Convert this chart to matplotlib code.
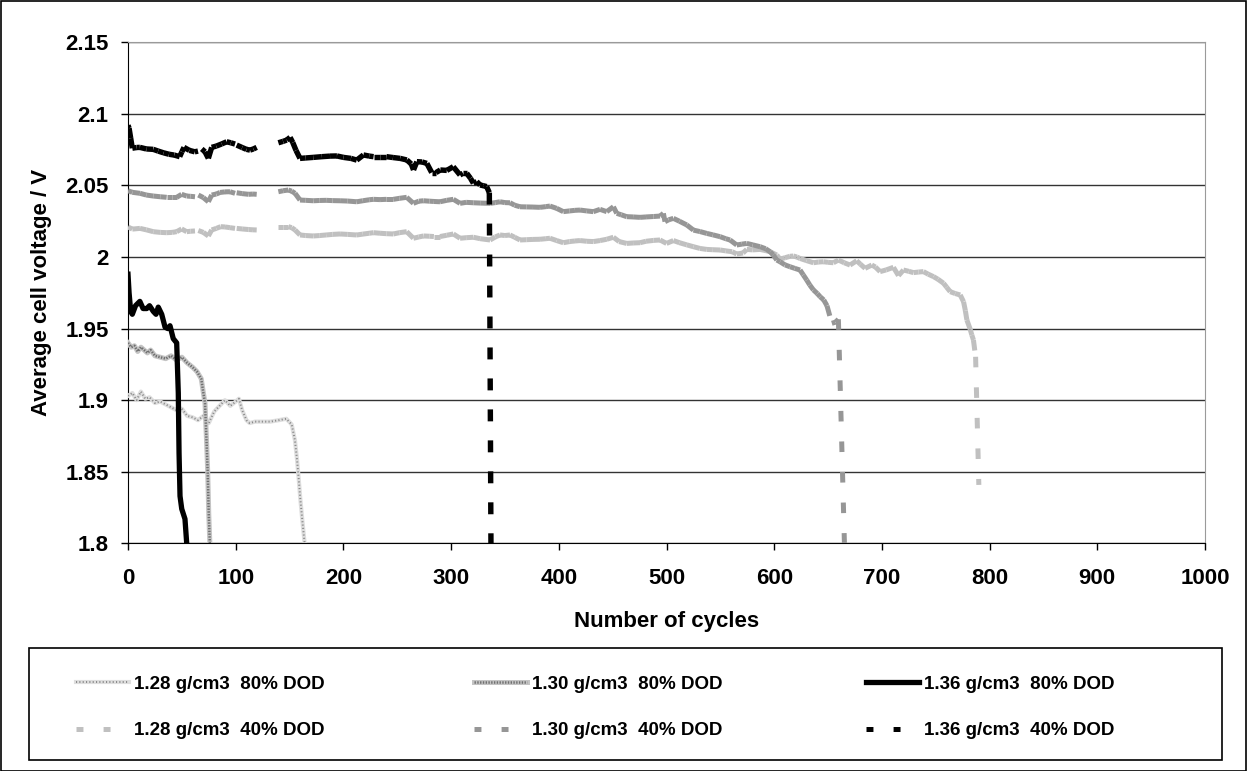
import numpy as np
import matplotlib
matplotlib.use("Agg")
import matplotlib.pyplot as plt
from matplotlib import font_manager
from matplotlib.collections import LineCollection
from matplotlib.lines import Line2D
from matplotlib.patches import Rectangle
from matplotlib.legend_handler import HandlerTuple

plt.rcParams['font.family'] = ['Liberation Sans', 'DejaVu Sans']
plt.rcParams['font.weight'] = 'bold'
plt.rcParams['lines.scale_dashes'] = False

nan = np.nan

# ---- data (cycles, average cell voltage) ----
# 80% DOD runs
c128_80 = [0, 4, 8, 12, 16, 20, 25, 30, 35, 40,
           45, 50, 55, 60, 65, 70, 75, 80, 85, 90,
           95, 100, 103, 106, 110, 113, 118, 125, 132, 140,
           147, 152, 155, 157, 158.5, 160, 162, 164]
v128_80 = [1.903, 1.905, 1.900, 1.906, 1.901, 1.902, 1.898, 1.899, 1.897, 1.895,
           1.893, 1.894, 1.889, 1.888, 1.886, 1.889, 1.884, 1.892, 1.896, 1.900,
           1.896, 1.899, 1.901, 1.893, 1.886, 1.884, 1.885, 1.885, 1.885, 1.886,
           1.887, 1.883, 1.872, 1.858, 1.845, 1.831, 1.815, 1.800]

c130_80 = [0, 3, 6, 9, 12, 15, 18, 21, 25, 30,
           35, 40, 45, 50, 55, 60, 64, 68, 70, 71.5,
           73, 74, 75, 76]
v130_80 = [1.940, 1.937, 1.938, 1.934, 1.937, 1.935, 1.933, 1.935, 1.931, 1.930,
           1.929, 1.931, 1.928, 1.930, 1.926, 1.923, 1.920, 1.915, 1.905, 1.898,
           1.870, 1.850, 1.820, 1.800]

c136_80 = [0, 1, 2.5, 4, 7, 11, 14, 17.4, 20, 23.5,
           26, 28.1, 31.3, 34.4, 37, 39, 42, 45.2, 46.7, 47.4,
           48.3, 49.9, 52.9, 54.5]
v136_80 = [1.988, 1.975, 1.962, 1.960, 1.966, 1.969, 1.964, 1.964, 1.966, 1.962,
           1.960, 1.965, 1.960, 1.951, 1.950, 1.952, 1.943, 1.940, 1.905, 1.863,
           1.833, 1.824, 1.817, 1.800]

# 40% DOD runs (nan = missing readings)
c128_40 = [0, 4, 11.1, 17, 23.5, 30, 35.9, 41, 45.2, 49.8,
           54.5, 58, 62.2, 63.5, 65.3, 70, 74.6, 77.7, 82, 86,
           90, 94.7, 99.4, 100.2, 100.9, 106, 112, 116, 119.5, 130,
           139.6, 144, 148.9, 152, 155.1, 159.7, 165, 172.1, 178, 184,
           190, 196.9, 204, 212.4, 218, 224, 227.9, 234, 240, 246.4,
           252, 258.8, 265, 270, 274.3, 280, 284, 289.7, 296, 302.1,
           308.3, 314, 320.7, 327, 336.2, 341, 345.4, 350, 354.7, 359,
           364, 370, 376, 382.5, 388, 391.8, 398, 404.2, 410, 415,
           419.7, 426, 432.1, 438.3, 444.5, 450.7, 456, 463, 469, 475.4,
           481, 488, 494, 500, 506.4, 512, 518.8, 525, 531, 537.4,
           543, 549.8, 555, 561, 565.2, 571, 574.5, 580, 586.9, 592,
           596.2, 602.4, 605.4, 610, 614.7, 617.8, 621, 624, 630, 636.4,
           641, 645.7, 650, 655, 659.6, 665, 670.4, 676.6, 680, 684.4,
           690.6, 694, 698.3, 704, 710.7, 715.4, 720, 725, 729.3, 734,
           738.6, 743, 747.9, 752, 757.2, 760, 763.4, 768, 772.7, 775.8,
           777.5, 778.9, 782, 783.5, 785, 787, 790]
v128_40 = [2.0210, 2.0195, 2.0200, 2.0190, 2.0177, 2.0172, 2.0170, 2.0172, 2.0177, 2.0196,
           2.0177, 2.0180, 2.0182, nan, 2.0185, 2.0172, 2.0147, 2.0189, 2.0200, 2.0212,
           2.0210, 2.0205, 2.0200, nan, 2.0200, 2.0196, 2.0192, 2.0190, 2.0189, nan,
           2.0212, 2.0212, 2.0212, 2.0205, 2.0189, 2.0154, 2.0150, 2.0147, 2.0150, 2.0154,
           2.0158, 2.0161, 2.0158, 2.0154, 2.0160, 2.0166, 2.0170, 2.0166, 2.0163, 2.0161,
           2.0170, 2.0177, 2.0131, 2.0140, 2.0147, 2.0145, 2.0143, 2.0143, 2.0152, 2.0161,
           2.0131, 2.0135, 2.0138, 2.0128, 2.0119, 2.0140, 2.0154, 2.0150, 2.0154, 2.0138,
           2.0119, 2.0121, 2.0123, 2.0124, 2.0128, 2.0131, 2.0115, 2.0100, 2.0108, 2.0112,
           2.0115, 2.0110, 2.0108, 2.0115, 2.0124, 2.0138, 2.0108, 2.0095, 2.0098, 2.0100,
           2.0110, 2.0116, 2.0119, 2.0095, 2.0115, 2.0100, 2.0085, 2.0072, 2.0060, 2.0053,
           2.0051, 2.0049, 2.0043, 2.0037, 2.0021, 2.0028, 2.0053, 2.0050, 2.0053, 2.0045,
           2.0037, 2.0014, 1.9985, 1.9995, 2.0005, 2.0007, 2.0000, 1.9990, 1.9975, 1.9960,
           1.9965, 1.9967, 1.9963, 1.9960, 1.9979, 1.9960, 1.9944, 1.9974, 1.9950, 1.9921,
           1.9944, 1.9930, 1.9898, 1.9910, 1.9928, 1.9870, 1.9909, 1.9900, 1.9891, 1.9895,
           1.9898, 1.9880, 1.9863, 1.9845, 1.9817, 1.9790, 1.9758, 1.9745, 1.9735, 1.9688,
           1.9625, 1.9560, 1.9495, 1.9455, 1.9420, 1.9303, 1.8408]

c130_40 = [0, 4, 11.1, 17, 23.5, 30, 35.9, 41, 45.2, 49.8,
           54.5, 58, 62.2, 63.5, 65.3, 70, 74.6, 77.7, 82, 85.4,
           90, 94.7, 99.4, 100.2, 100.9, 106, 112, 116, 119.5, 130,
           139.6, 144, 148.9, 152, 155.1, 159.7, 165, 172.1, 178, 184,
           190, 196.9, 204, 212.4, 218, 224, 227.9, 234, 240, 246.4,
           252, 258.8, 265, 270, 274.3, 280, 284, 289.7, 296, 302.1,
           308.3, 314, 320.7, 327, 336.2, 341, 345.4, 350, 354.7, 359,
           364, 370, 376, 382.5, 388, 391.8, 398, 404.2, 410, 415,
           419.7, 426, 432.1, 438.3, 444.5, 450.7, 453.8, 458, 463, 469,
           475.4, 481, 488, 494, 497.1, 498.6, 502, 506.4, 512, 518.8,
           525, 531, 537.4, 543, 549.8, 555, 559, 565.2, 570, 574.5,
           580, 586.9, 592, 596.2, 599, 602.4, 605.4, 610, 614.7, 619,
           624, 627, 630.2, 633, 636.4, 640, 642.6, 646, 649, 653.5,
           657, 659.6, 665.2]
v130_40 = [2.0463, 2.0452, 2.0445, 2.0433, 2.0426, 2.0421, 2.0417, 2.0417, 2.0417, 2.0438,
           2.0426, 2.0424, 2.0421, nan, 2.0433, 2.0415, 2.0386, 2.0433, 2.0440, 2.0451,
           2.0455, 2.0456, 2.0445, nan, 2.0449, 2.0443, 2.0438, 2.0440, 2.0438, nan,
           2.0456, 2.0463, 2.0468, 2.0460, 2.0445, 2.0398, 2.0396, 2.0393, 2.0395, 2.0396,
           2.0394, 2.0393, 2.0391, 2.0386, 2.0393, 2.0400, 2.0403, 2.0401, 2.0403, 2.0403,
           2.0410, 2.0417, 2.0375, 2.0390, 2.0393, 2.0390, 2.0388, 2.0386, 2.0396, 2.0403,
           2.0375, 2.0382, 2.0379, 2.0377, 2.0375, 2.0380, 2.0386, 2.0380, 2.0379, 2.0362,
           2.0351, 2.0350, 2.0349, 2.0347, 2.0352, 2.0356, 2.0340, 2.0317, 2.0322, 2.0326,
           2.0328, 2.0322, 2.0317, 2.0333, 2.0317, 2.0351, 2.0305, 2.0295, 2.0282, 2.0280,
           2.0277, 2.0280, 2.0283, 2.0286, 2.0305, 2.0247, 2.0260, 2.0270, 2.0250, 2.0224,
           2.0188, 2.0178, 2.0165, 2.0155, 2.0142, 2.0128, 2.0119, 2.0084, 2.0090, 2.0095,
           2.0085, 2.0072, 2.0058, 2.0037, 2.0015, 1.9979, 1.9967, 1.9945, 1.9932, 1.9921,
           1.9909, 1.9875, 1.9839, 1.9805, 1.9770, 1.9745, 1.9723, 1.9700, 1.9660, 1.9537,
           1.9545, 1.9565, 1.8000]

c136_40 = [0, 1, 2.5, 4, 8, 11, 17, 23.5, 28, 33,
           38, 43, 48, 50, 52, 57, 62, 65, 66.5, 68.5,
           71.5, 74.6, 77.7, 82, 87, 91.6, 95.5, 99.4, 100.2, 100.9,
           106, 110, 113.3, 116.5, 119.5, 130, 139.6, 144, 147.4, 150.5,
           153, 156, 159.7, 165, 172, 180, 187.6, 194, 200, 207,
           212.4, 218.6, 224, 228, 234, 240, 246, 252.7, 258.9, 263,
           265.1, 268.2, 273, 277.5, 282, 286, 290, 296, 302, 308.3,
           311, 314.5, 318, 320.7, 323.8, 326.9, 330, 333, 335.5, 337]
v136_40 = [2.092, 2.090, 2.083, 2.076, 2.0765, 2.0766, 2.0755, 2.0752, 2.0740, 2.0728,
           2.0718, 2.0712, 2.0701, 2.0735, 2.0766, 2.0745, 2.0735, 2.0740, nan, 2.0755,
           2.0735, 2.0689, 2.0766, 2.0775, 2.0790, 2.0805, 2.0798, 2.0789, nan, 2.0782,
           2.0765, 2.0752, 2.0747, 2.0755, 2.0766, nan, 2.0798, 2.0808, 2.0817, 2.0836,
           2.0800, 2.0745, 2.0689, 2.0692, 2.0696, 2.0701, 2.0705, 2.0706, 2.0696, 2.0689,
           2.0677, 2.0713, 2.0705, 2.0701, 2.0701, 2.0701, 2.0695, 2.0689, 2.0678, 2.0650,
           2.0608, 2.0666, 2.0664, 2.0654, 2.0590, 2.0590, 2.0608, 2.0605, 2.0631, 2.0573,
           2.0585, 2.0585, 2.0550, 2.0515, 2.0527, 2.0503, 2.0498, 2.0492, 2.0450, 1.8000]

labels = ['1.28 g/cm3  80% DOD', '1.28 g/cm3  40% DOD',
          '1.30 g/cm3  80% DOD', '1.30 g/cm3  40% DOD',
          '1.36 g/cm3  80% DOD', '1.36 g/cm3  40% DOD']

x_ticks = np.arange(0, 1001, 100)
y_ticks = [1.8, 1.85, 1.9, 1.95, 2.0, 2.05, 2.1, 2.15]
y_ticklabels = ['1.8', '1.85', '1.9', '1.95', '2', '2.05', '2.1', '2.15']

# ---- figure ----
W, H = 1247, 771
fig = plt.figure(figsize=(W / 100, H / 100), dpi=100)
ax = fig.add_axes([128 / W, 1 - 543.3 / H, (1205 - 128) / W, (543.3 - 42.3) / H])

LIGHT = '#c0c0c0'
MID = '#969696'


def dashed(ax, x, y, color, lw, dash, gap):
    # excel restarts the dash pattern on every segment, so draw them one by one
    pts = np.column_stack([x, y])
    segs = [pts[i:i + 2] for i in range(len(pts) - 1) if np.all(np.isfinite(pts[i:i + 2]))]
    lc = LineCollection(segs, colors=color, linewidths=lw,
                        linestyles=[(0, (dash, gap))], capstyle='butt', zorder=3)
    ax.add_collection(lc)


dashed(ax, c128_40, v128_40, LIGHT, 3.6, 7.6, 14.4)
dashed(ax, c130_40, v130_40, MID, 3.6, 7.6, 14.4)
dashed(ax, c136_40, v136_40, 'black', 3.9, 8.6, 13.7)

# textured 80% lines: pale base + dot overlay
ax.plot(c128_80, v128_80, color='#dedede', lw=3.0, zorder=3)
ax.plot(c128_80, v128_80, color='#8a8a8a', lw=1.4, ls=(0, (0.8, 1.6)), zorder=3)
ax.plot(c130_80, v130_80, color='#c4c4c4', lw=3.6, zorder=3)
ax.plot(c130_80, v130_80, color='#707070', lw=1.8, ls=(0, (1.0, 1.0)), zorder=3)
ax.plot(c136_80, v136_80, color='black', lw=3.8, solid_joinstyle='round', zorder=4)

ax.set_xlim(0, 1000)
ax.set_ylim(1.8, 2.15)
ax.set_xticks(x_ticks)
ax.set_xticklabels([str(t) for t in x_ticks])
ax.set_yticks(y_ticks)
ax.set_yticklabels(y_ticklabels)
ax.tick_params(axis='both', direction='out', length=5, width=1, color='black', labelsize=16)
ax.tick_params(axis='x', pad=13)
ax.tick_params(axis='y', pad=9)
for lab in ax.get_xticklabels() + ax.get_yticklabels():
    lab.set_fontweight('bold')

ax.yaxis.grid(True, color='#333333', lw=1)
ax.set_axisbelow(True)
ax.spines['left'].set_color('black')
ax.spines['bottom'].set_color('black')
ax.spines['top'].set_color('#9a9a9a')
ax.spines['right'].set_color('#9a9a9a')

fig.text(42 / W, 1 - 292.8 / H, 'Average cell voltage / V', rotation=90,
         ha='center', va='center', fontsize=16, fontweight='bold')
fig.text(666.5 / W, 1 - 621 / H, 'Number of cycles', ha='center', va='center',
         fontsize=16, fontweight='bold')

# legend: frame drawn by hand, one legend per column
fig.patches.append(Rectangle((29 / W, 1 - 760 / H), (1222 - 29) / W, (760 - 648) / H,
                             transform=fig.transFigure, fill=False,
                             edgecolor='black', lw=1.2))

names = {f.name for f in font_manager.fontManager.ttflist}
if 'Liberation Sans Narrow' in names:
    leg_font = {'family': 'Liberation Sans Narrow', 'weight': 'bold', 'size': 16}
else:
    leg_font = {'family': 'Liberation Sans', 'weight': 'bold', 'size': 13.5}
fs_px = leg_font['size'] * 100 / 72

h128_80 = (Line2D([], [], color='#dedede', lw=3.0),
           Line2D([], [], color='#8a8a8a', lw=1.4, ls=(0, (0.8, 1.6))))
h130_80 = (Line2D([], [], color='#c4c4c4', lw=3.6),
           Line2D([], [], color='#707070', lw=1.8, ls=(0, (1.0, 1.0))))
h136_80 = Line2D([], [], color='black', lw=3.8)
dash_leg = (0, (5.0, 14.5))
h128_40 = Line2D([], [], color=LIGHT, lw=3.6, ls=dash_leg)
h130_40 = Line2D([], [], color=MID, lw=3.6, ls=dash_leg)
h136_40 = Line2D([], [], color='black', lw=3.6, ls=dash_leg)
columns = [((h128_80, h128_40), labels[0:2], 76),
           ((h130_80, h130_40), labels[2:4], 474),
           ((h136_80, h136_40), labels[4:6], 866)]

text_h = 0.83 * fs_px
for hs, labs, x0 in columns:
    fig.legend(list(hs), labs, loc='center left',
               bbox_to_anchor=(x0 / W, 1 - 707.5 / H), borderaxespad=0, borderpad=0,
               frameon=False, handlelength=52.5 / fs_px, handletextpad=5 / fs_px,
               labelspacing=(45 - text_h) / fs_px, prop=leg_font,
               handler_map={tuple: HandlerTuple(ndivide=1, pad=0)})

fig.patches.append(Rectangle((0.5 / W, 0.5 / H), 1 - 1.5 / W, 1 - 1.5 / H,
                             transform=fig.transFigure, fill=False,
                             edgecolor='black', lw=1.2))

fig.savefig('out.png', dpi=100)
